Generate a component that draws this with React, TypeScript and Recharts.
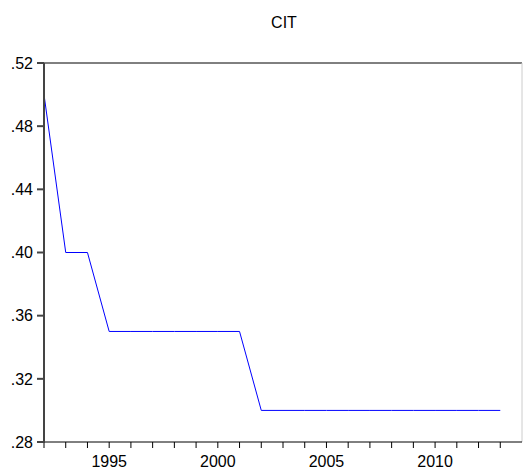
import React from 'react';
import { LineChart, Line, XAxis, YAxis, ReferenceLine } from 'recharts';

const years = [1992, 1993, 1994, 1995, 1996, 1997, 1998, 1999, 2000, 2001, 2002, 2003, 2004, 2005, 2006, 2007, 2008, 2009, 2010, 2011, 2012, 2013];
const cit = [0.5, 0.4, 0.4, 0.35, 0.35, 0.35, 0.35, 0.35, 0.35, 0.35, 0.3, 0.3, 0.3, 0.3, 0.3, 0.3, 0.3, 0.3, 0.3, 0.3, 0.3, 0.3];
const xTicks = [1992, 1993, 1994, 1995, 1996, 1997, 1998, 1999, 2000, 2001, 2002, 2003, 2004, 2005, 2006, 2007, 2008, 2009, 2010, 2011, 2012, 2013];
const yTicks = [0.28, 0.32, 0.36, 0.4, 0.44, 0.48, 0.52];

const data = years.map((y, i) => ({ year: y, CIT: cit[i] }));

const font = { fontFamily: 'Arial, "Liberation Sans", sans-serif', fontSize: 16, fill: '#000' };

const App: React.FC = () => {
  return (
    <div style={{ position: 'absolute', left: 0, top: 0, width: 529, height: 472, background: '#fff' }}>
      <div style={{ position: 'absolute', left: 0, top: 14, width: 568, textAlign: 'center', ...font }}>CIT</div>
      <LineChart width={529} height={472} data={data} margin={{ top: 63, right: 7, bottom: 0, left: 4 }}>
        <XAxis
          dataKey="year"
          type="number"
          domain={[1992, 2014]}
          ticks={xTicks}
          interval={0}
          tickFormatter={(v: number) => (v % 5 === 0 ? String(v) : '')}
          height={30}
          tickSize={6}
          tickMargin={8}
          stroke="#000"
          tick={font}
        />
        <YAxis
          type="number"
          domain={[0.28, 0.52]}
          ticks={yTicks}
          interval={0}
          width={40}
          tickSize={7}
          tickMargin={4}
          tickFormatter={(v: number) => v.toFixed(2).replace(/^0/, '')}
          stroke="#444"
          strokeWidth={2}
          tick={font}
        />
        <ReferenceLine y={0.52} stroke="#000" />
        <ReferenceLine x={2014} stroke="#ccc" />
        <Line type="linear" dataKey="CIT" stroke="#0000ff" strokeWidth={1} dot={false} isAnimationActive={false} />
      </LineChart>
    </div>
  );
};

export default App;
